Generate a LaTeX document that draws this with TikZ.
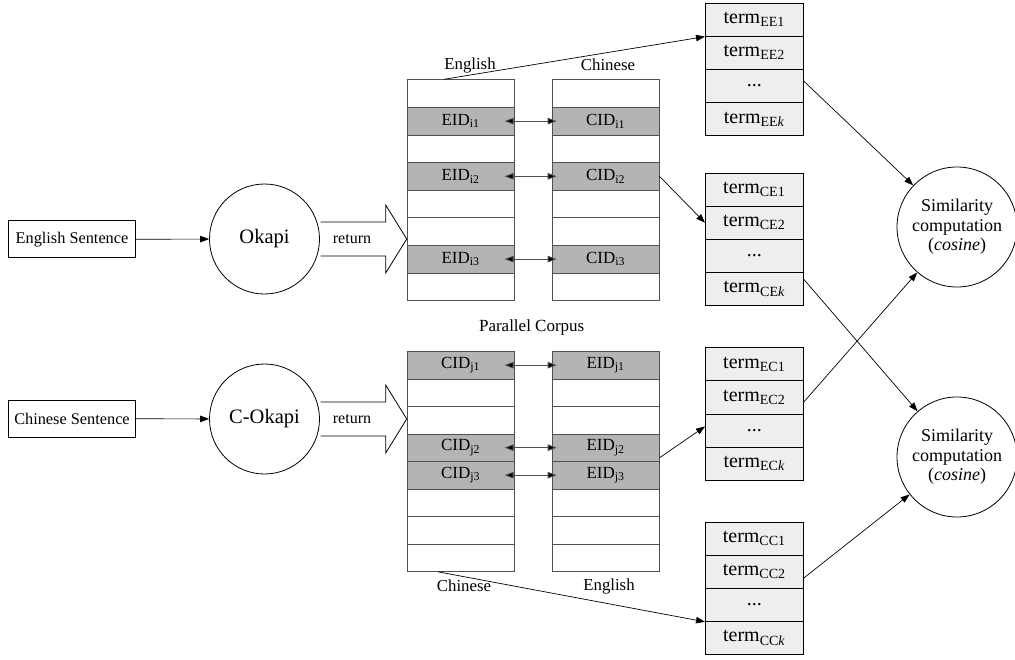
\documentclass[tikz,border=0pt]{standalone}
\usepackage{fontspec}
\setmainfont{Liberation Serif}
\usetikzlibrary{arrows.meta}

\definecolor{hitgray}{RGB}{180,180,180}
\definecolor{termgray}{RGB}{238,238,238}
\definecolor{edgegray}{RGB}{80,80,80}

\tikzset{
  cell/.style={draw=edgegray, minimum width=107pt, minimum height=27.6pt, inner sep=0pt,
    anchor=north west, font=\fontsize{17}{19}\selectfont},
  term/.style={draw=black, fill=termgray, minimum width=97.7pt, minimum height=33.1pt, inner sep=0pt,
    anchor=north west, font=\fontsize{20}{22}\selectfont},
  sent/.style={draw, minimum width=127.4pt, minimum height=37pt, inner sep=0pt,
    font=\fontsize{16.3}{18}\selectfont},
  engine/.style={draw, circle, minimum size=110pt, inner sep=0pt, font=\fontsize{20.5}{22}\selectfont},
  simil/.style={draw, circle, minimum size=120pt, inner sep=0pt, align=center,
    font=\fontsize{18}{19.5}\selectfont},
  colname/.style={font=\fontsize{16.8}{18}\selectfont},
  link/.style={line width=0.7pt, -{Triangle[length=9pt,width=6.5pt]}},
  pair/.style={line width=0.9pt, draw=edgegray,
    {Triangle[length=9pt,width=6.5pt,fill=black]}-{Triangle[length=9pt,width=6.5pt,fill=black]}}
}

\begin{document}
\begin{tikzpicture}[x=1pt, y=-1pt, line width=0.8pt]
\useasboundingbox (0,0) rectangle (1015,659);
\def\colL{406.7}
\def\colR{551.7}
\def\topU{79.3}
\def\topD{351}
\def\rowh{27.6}
\def\termx{705}
\def\termh{33.1}

% Input sentences and the two retrieval engines
\node[sent] (esent) at (72,239.3) {English Sentence};
\node[sent] (csent) at (72,418.7) {Chinese Sentence};
\node[engine] (okapi) at (264.5,239) {Okapi};
\node[engine] (cokapi) at (264.5,419) {C-Okapi};
\draw[link] (esent) -- (okapi);
\draw[link] (csent) -- (cokapi);

% Block arrows "return"
\foreach \y/\n in {239/1,419/2}{
  \draw (320.7,\y-17) -- (385.7,\y-17) -- (385.7,\y-34) -- (406.7,\y)
        -- (385.7,\y+34) -- (385.7,\y+17) -- (320.7,\y+17);
  \node[font=\fontsize{16}{18}\selectfont] (ret\n) at (352,\y) {return};
}

% Parallel corpus, upper half
\foreach \r/\f/\lab in {1/white/{},2/hitgray/{EID\textsubscript{i1}},3/white/{},4/hitgray/{EID\textsubscript{i2}},
    5/white/{},6/white/{},7/hitgray/{EID\textsubscript{i3}},8/white/{}}
  \node[cell, fill=\f] (uL\r) at (\colL,{\topU+(\r-1)*\rowh}) {\lab};
\foreach \r/\f/\lab in {1/white/{},2/hitgray/{CID\textsubscript{i1}},3/white/{},4/hitgray/{CID\textsubscript{i2}},
    5/white/{},6/white/{},7/hitgray/{CID\textsubscript{i3}},8/white/{}}
  \node[cell, fill=\f] (uR\r) at (\colR,{\topU+(\r-1)*\rowh}) {\lab};
\foreach \r in {2,4,7}
  \draw[pair] ([xshift=-10pt]uL\r.east) -- ([xshift=5pt]uR\r.west);
\node[colname] (uLname) at (470,65) {English};
\node[colname] (uRname) at (608,65) {Chinese};
\node[colname, font=\fontsize{17}{19}\selectfont] (corpus) at (531.7,327) {Parallel Corpus};

% Parallel corpus, lower half
\foreach \r/\f/\lab in {1/hitgray/{CID\textsubscript{j1}},2/white/{},3/white/{},4/hitgray/{CID\textsubscript{j2}},
    5/hitgray/{CID\textsubscript{j3}},6/white/{},7/white/{},8/white/{}}
  \node[cell, fill=\f, minimum height=27.5pt] (lL\r) at (\colL,{\topD+(\r-1)*27.5}) {\lab};
\foreach \r/\f/\lab in {1/hitgray/{EID\textsubscript{j1}},2/white/{},3/white/{},4/hitgray/{EID\textsubscript{j2}},
    5/hitgray/{EID\textsubscript{j3}},6/white/{},7/white/{},8/white/{}}
  \node[cell, fill=\f, minimum height=27.5pt] (lR\r) at (\colR,{\topD+(\r-1)*27.5}) {\lab};
\foreach \r in {1,4,5}
  \draw[pair] ([xshift=-10pt]lL\r.east) -- ([xshift=5pt]lR\r.west);
\node[colname] (lLname) at (464,586) {Chinese};
\node[colname] (lRname) at (609,586) {English};

% Term vectors
\foreach \tb/\y in {EE/2.7,CE/172.7,EC/347.3,CC/521.7}{
  \node[term] (\tb1) at (\termx,\y) {term\textsubscript{\tb1}};
  \node[term] (\tb2) at (\termx,\y+\termh) {term\textsubscript{\tb2}};
  \node[term] (\tb3) at (\termx,\y+2*\termh) {...};
  \node[term] (\tb4) at (\termx,\y+3*\termh) {term\textsubscript{\tb\textit{k}}};
}

% Similarity
\node[simil] (sim1) at (957,227) {Similarity\\computation\\(\textit{cosine})};
\node[simil] (sim2) at (957,457) {Similarity\\computation\\(\textit{cosine})};

% Corpus to term vectors
\draw[link] ([xshift=37.3pt]uL1.north west) -- (EE1.south west);
\draw[link] (uR4.east) -- (CE2.west);
\draw[link] ([yshift=4pt]lR4.south east) -- ([yshift=4pt]EC3.west);
\draw[link] ([xshift=31.3pt]lL8.south west) -- (CC3.south west);

% Term vectors to similarity
\draw[link] ([yshift=5pt]EE3.east) -- (sim1);
\draw[link] ([yshift=-7pt]CE4.north east) -- (sim2);
\draw[link] ([yshift=-5pt]EC2.east) -- (sim1);
\draw[link] ([yshift=-6.5pt]CC2.east) -- (sim2);

\end{tikzpicture}
\end{document}
